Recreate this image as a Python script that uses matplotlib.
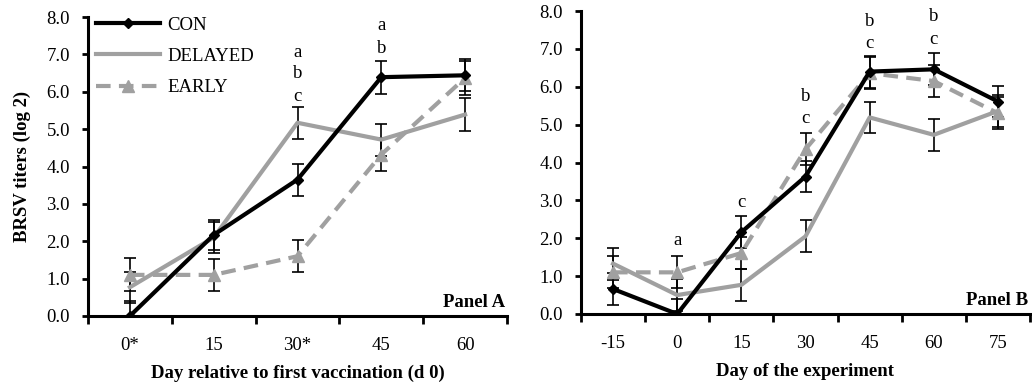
import matplotlib
matplotlib.use("Agg")
import matplotlib.pyplot as plt
import numpy as np

plt.rcParams['font.family'] = ['Liberation Serif', 'DejaVu Serif']

# Panel A data
days_a = ["0*", "15", "30*", "45", "60"]
con_a = [0.0, 2.17, 3.65, 6.39, 6.44]
con_a_se = [0.40, 0.41, 0.43, 0.44, 0.43]
del_a = [0.77, 2.10, 5.17, 4.72, 5.39]
del_a_se = [0.42, 0.42, 0.43, 0.43, 0.44]
ear_a = [1.10, 1.10, 1.60, 4.32, 6.37]
ear_a_se = [0.44, 0.43, 0.43, 0.43, 0.45]

# Panel B data
days_b = ["-15", "0", "15", "30", "45", "60", "75"]
con_b = [0.66, 0.0, 2.16, 3.63, 6.40, 6.46, 5.61]
con_b_se = [0.42, 0.40, 0.42, 0.40, 0.42, 0.42, 0.42]
del_b = [1.33, 0.50, 0.77, 2.05, 5.19, 4.73, 5.36]
del_b_se = [0.42, 0.42, 0.42, 0.42, 0.42, 0.42, 0.43]
ear_b = [1.10, 1.10, 1.61, 4.35, 6.36, 6.15, 5.30]
ear_b_se = [0.42, 0.42, 0.42, 0.42, 0.42, 0.42, 0.42]

# significance letters: (category index, y, text)
letters_a = [(2, 7.06, "a"), (2, 6.50, "b"), (2, 5.86, "c"),
             (3, 7.78, "a"), (3, 7.17, "b")]
letters_b = [(1, 1.93, "a"), (2, 2.95, "c"), (3, 5.73, "b"), (3, 5.15, "c"),
             (4, 7.73, "b"), (4, 7.15, "c"), (5, 7.86, "b"), (5, 7.26, "c")]

GRAY = "#a0a0a0"
FS = 13.5

fig = plt.figure(figsize=(10.32, 3.85), dpi=100)
axA = fig.add_axes([88/1032, 1-316/385, (507-88)/1032, (316-17)/385])
axB = fig.add_axes([581/1032, 1-314/385, (1030-581)/1032, (314-11)/385])


def draw(ax, cats, con, con_se, dl, dl_se, er, er_se, letters, xlabel, panel, ylabel=None, legend=False):
    x = np.arange(len(cats))
    ax.errorbar(x, dl, yerr=dl_se, fmt='none', ecolor='black', elinewidth=1.2, capsize=4, capthick=1.2, zorder=2)
    ax.errorbar(x, er, yerr=er_se, fmt='none', ecolor='black', elinewidth=1.2, capsize=4, capthick=1.2, zorder=2)
    ax.errorbar(x, con, yerr=con_se, fmt='none', ecolor='black', elinewidth=1.2, capsize=4, capthick=1.2, zorder=2)
    l2, = ax.plot(x, dl, color=GRAY, lw=3, label="DELAYED", zorder=3)
    l3, = ax.plot(x, er, color=GRAY, lw=3, ls=(0, (3.5, 2)), marker='^', ms=8,
                  markerfacecolor=GRAY, markeredgecolor=GRAY, label="EARLY", zorder=4)
    l1, = ax.plot(x, con, color='black', lw=3, marker='D', ms=5, label="CON", zorder=5)
    for i, y, t in letters:
        ax.text(i, y, t, ha='center', va='center', fontsize=FS)
    ax.set_xlim(-0.5, len(cats) - 0.5)
    ax.set_ylim(0, 8)
    ax.set_yticks(np.arange(0, 9, 1))
    ax.set_yticklabels([f"{v:.1f}" for v in np.arange(0, 9, 1)], fontsize=FS)
    ax.set_xticks(x)
    ax.set_xticklabels(cats, fontsize=FS)
    ax.set_xticks(np.arange(-0.5, len(cats), 1), minor=True)
    ax.tick_params(axis='x', which='major', length=0, pad=15)
    ax.tick_params(axis='x', which='minor', length=6, width=2, direction='out')
    ax.tick_params(axis='y', length=4, width=2, direction='out', pad=9)
    for s in ['top', 'right']:
        ax.spines[s].set_visible(False)
    for s in ['left', 'bottom']:
        ax.spines[s].set_linewidth(2.2)
    ax.set_xlabel(xlabel, fontsize=FS, fontweight='bold', labelpad=8)
    if ylabel:
        ax.set_ylabel(ylabel, fontsize=FS, fontweight='bold', labelpad=11)
    ax.text(0.995, 0.045, panel, transform=ax.transAxes, ha='right', va='center',
            fontsize=FS, fontweight='bold')
    if legend:
        ax.legend(handles=[l1, l2, l3], loc='upper left', bbox_to_anchor=(-0.012, 1.045),
                  frameon=False, fontsize=FS, handlelength=3.4, handletextpad=0.4,
                  labelspacing=0.75, borderaxespad=0.3)


draw(axA, days_a, con_a, con_a_se, del_a, del_a_se, ear_a, ear_a_se, letters_a,
     "Day relative to first vaccination (d 0)", "Panel A", ylabel="BRSV titers (log 2)", legend=True)
draw(axB, days_b, con_b, con_b_se, del_b, del_b_se, ear_b, ear_b_se, letters_b,
     "Day of the experiment", "Panel B")

fig.savefig("out.png", dpi=100)
